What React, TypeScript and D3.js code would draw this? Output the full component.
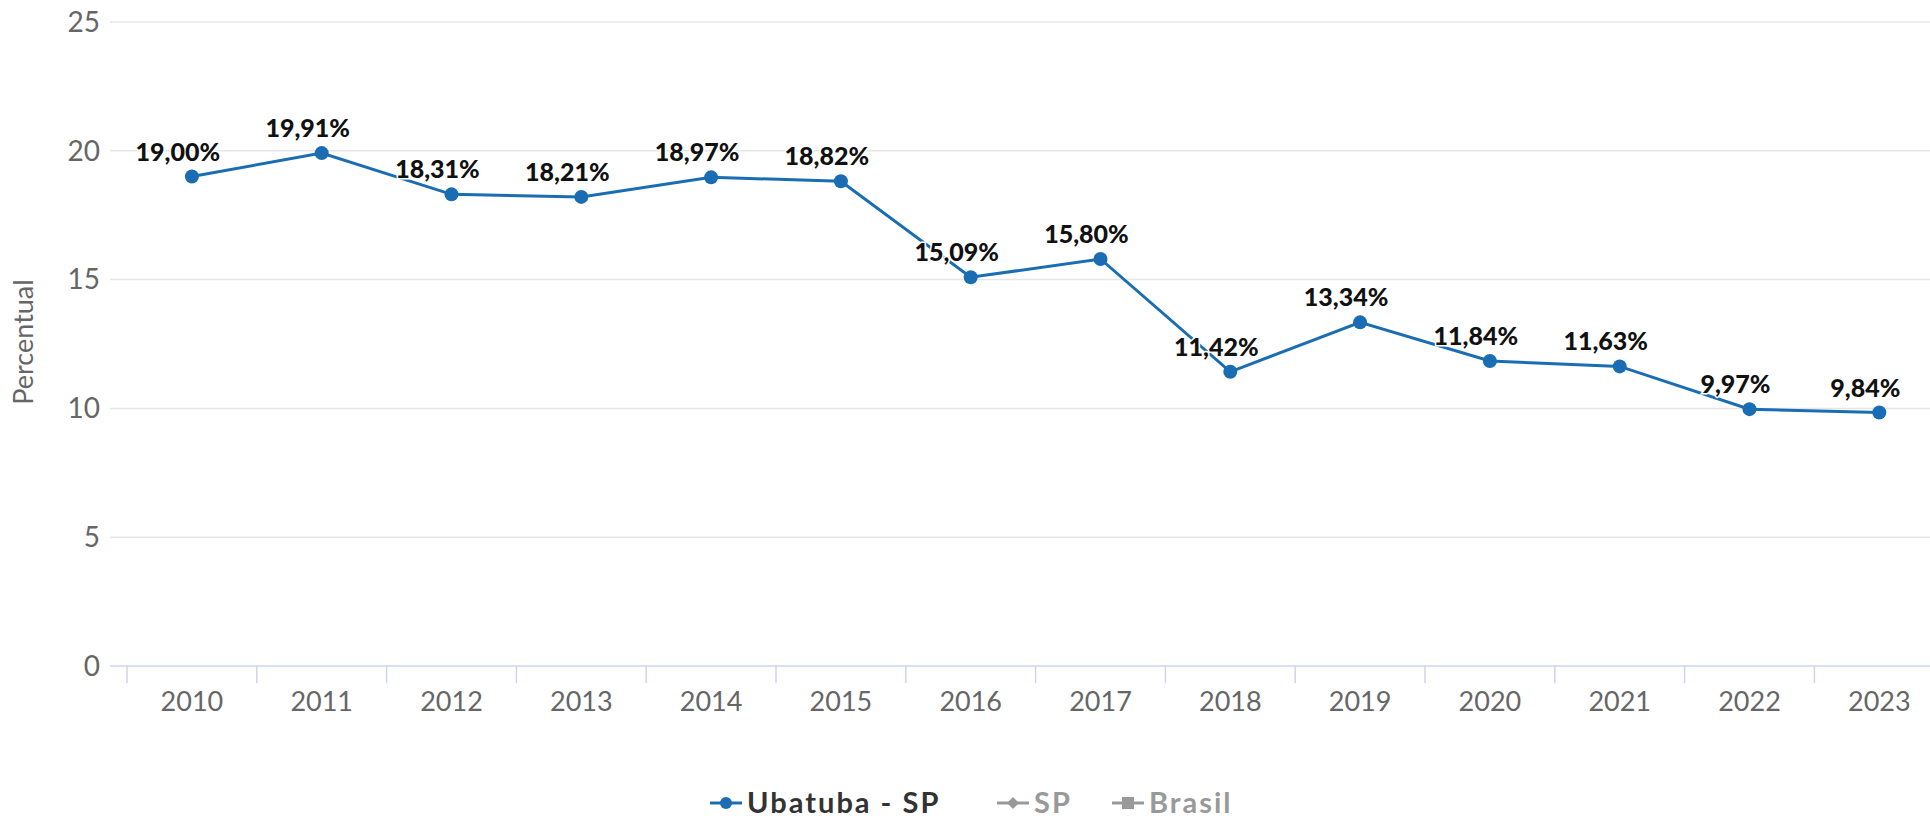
import React from 'react';
import * as d3 from 'd3';

const years = ['2010', '2011', '2012', '2013', '2014', '2015', '2016', '2017', '2018', '2019', '2020', '2021', '2022', '2023'];
const ubatuba = [19.0, 19.91, 18.31, 18.21, 18.97, 18.82, 15.09, 15.8, 11.42, 13.34, 11.84, 11.63, 9.97, 9.84];
const yTicks = [0, 5, 10, 15, 20, 25];
const legendItems = [
  { name: 'Ubatuba - SP', symbol: 'circle', active: true },
  { name: 'SP', symbol: 'diamond', active: false },
  { name: 'Brasil', symbol: 'square', active: false },
];

const W = 1930;
const H = 820;
const LINE = '#1b6db3';
const FONT = 'Lato, "Open Sans", sans-serif';

const fmt = (v: number) => v.toFixed(2).replace('.', ',') + '%';

export default function App() {
  const plotLeft = 110;
  const x = d3.scaleBand<string>().domain(years).range([127, 127 + 14 * 129.8]);
  const y = d3.scaleLinear().domain([0, 25]).range([666, 22]);
  const cx = (yr: string) => (x(yr) ?? 0) + x.bandwidth() / 2;

  const line = d3.line<number>()
    .x((_, i) => cx(years[i]))
    .y(d => y(d));

  // legend positions (left edge of symbol)
  const legendX = [710, 997, 1112];
  const legendY = 803;

  return (
    <div style={{ position: 'absolute', left: 0, top: 0 }}>
      <svg width={W} height={H} viewBox={`0 0 ${W} ${H}`} style={{ display: 'block', fontFamily: FONT }}>
        <rect width={W} height={H} fill="#fff" />

        {/* grid */}
        {yTicks.map(t => (
          <g key={t}>
            <line x1={plotLeft} x2={W} y1={y(t)} y2={y(t)} stroke={t === 0 ? '#ccd6eb' : '#e6e6e6'} strokeWidth={1.5} />
            <text x={100} y={y(t)} dy="0.35em" textAnchor="end" fontSize={28} fill="#666">{t}</text>
          </g>
        ))}

        {/* x ticks */}
        {years.map(yr => (
          <line key={'t' + yr} x1={x(yr)} x2={x(yr)} y1={666} y2={683} stroke="#ccd6eb" strokeWidth={1.5} />
        ))}
        {years.map(yr => (
          <text key={'l' + yr} x={cx(yr)} y={711} textAnchor="middle" fontSize={27} fill="#666">{yr}</text>
        ))}

        <text transform={`translate(33,342) rotate(-90)`} textAnchor="middle" fontSize={27} fill="#666">Percentual</text>

        {/* series */}
        <path d={line(ubatuba) ?? ''} fill="none" stroke={LINE} strokeWidth={3} />
        {ubatuba.map((v, i) => (
          <circle key={'c' + i} cx={cx(years[i])} cy={y(v)} r={7} fill={LINE} />
        ))}
        {ubatuba.map((v, i) => (
          <text key={'d' + i} x={cx(years[i]) - 14} y={y(v) - 16} textAnchor="middle" fontSize={25} fontWeight="900" fill="#111"
            stroke="#fff" strokeWidth={3} paintOrder="stroke">{fmt(v)}</text>
        ))}

        {/* legend */}
        {legendItems.map((it, i) => {
          const lx = legendX[i];
          const col = it.active ? LINE : '#999';
          const mid = lx + 16;
          return (
            <g key={it.name}>
              <line x1={lx} x2={lx + 32} y1={legendY} y2={legendY} stroke={col} strokeWidth={3} />
              {it.symbol === 'circle' && <circle cx={mid} cy={legendY} r={6} fill={col} />}
              {it.symbol === 'diamond' && <path d={`M${mid},${legendY - 6}L${mid + 6},${legendY}L${mid},${legendY + 6}L${mid - 6},${legendY}Z`} fill={col} />}
              {it.symbol === 'square' && <rect x={mid - 6} y={legendY - 6} width={12} height={12} fill={col} />}
              <text x={lx + 37} y={legendY} dy="0.35em" fontSize={29} letterSpacing={2} fontWeight="bold" fill={it.active ? '#333' : '#999'}>{it.name}</text>
            </g>
          );
        })}
      </svg>
    </div>
  );
}
